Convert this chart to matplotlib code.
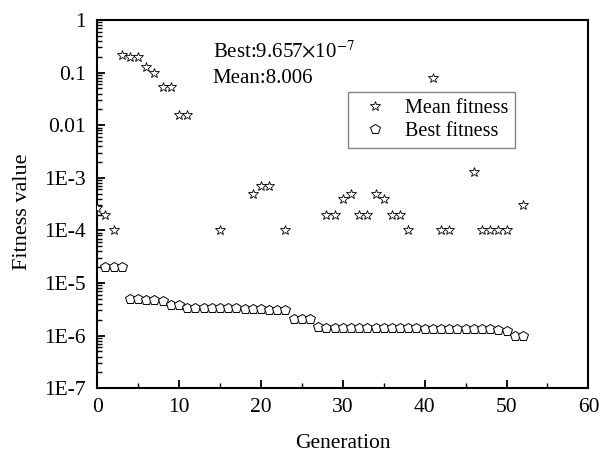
import numpy as np
import matplotlib
matplotlib.use('Agg')
import matplotlib.pyplot as plt
from matplotlib.ticker import FixedLocator, FixedFormatter, LogLocator, NullFormatter, MultipleLocator

plt.rcParams['font.family'] = ['Liberation Serif', 'DejaVu Serif']
plt.rcParams['mathtext.fontset'] = 'stix'

# mean fitness (only generations where the marker is visible inside the axis)
mean_gen = [0, 1, 2, 3, 4, 5, 6, 7, 8, 9, 10, 11, 15, 19, 20, 21, 23, 28, 29, 30, 31,
            32, 33, 34, 35, 36, 37, 38, 41, 42, 43, 46, 47, 48, 49, 50, 52]
mean_val = [2.7e-4, 2.0e-4, 1.0e-4, 0.22, 0.20, 0.20, 0.13, 0.10, 0.053, 0.053, 0.0155, 0.0155,
            1.0e-4, 5.0e-4, 7.0e-4, 7.0e-4, 1.0e-4, 2.0e-4, 2.0e-4, 4.0e-4, 5.0e-4,
            2.0e-4, 2.0e-4, 5.0e-4, 4.0e-4, 2.0e-4, 2.0e-4, 1.0e-4, 0.078, 1.0e-4, 1.0e-4,
            1.3e-3, 1.0e-4, 1.0e-4, 1.0e-4, 1.0e-4, 3.0e-4]

best_gen = list(range(1, 53))
best_val = [2.0e-5, 2.0e-5, 2.0e-5,
            5.0e-6, 4.9e-6, 4.8e-6, 4.7e-6, 4.5e-6,
            3.8e-6, 3.8e-6,
            3.3e-6, 3.3e-6, 3.3e-6, 3.3e-6, 3.3e-6, 3.3e-6, 3.3e-6, 3.25e-6, 3.25e-6, 3.2e-6,
            3.1e-6, 3.0e-6, 3.0e-6,
            2.1e-6, 2.1e-6, 2.1e-6,
            1.45e-6, 1.42e-6, 1.4e-6, 1.4e-6, 1.4e-6, 1.4e-6, 1.4e-6, 1.4e-6, 1.4e-6, 1.38e-6,
            1.38e-6, 1.37e-6, 1.37e-6, 1.36e-6, 1.35e-6, 1.35e-6, 1.34e-6, 1.34e-6, 1.33e-6,
            1.33e-6, 1.32e-6, 1.32e-6, 1.3e-6, 1.22e-6, 1.0e-6, 9.657e-7]

yticks = [1, 0.1, 0.01, 1e-3, 1e-4, 1e-5, 1e-6, 1e-7]
ylabels = ['1', '0.1', '0.01', '1E-3', '1E-4', '1E-5', '1E-6', '1E-7']

fig = plt.figure(figsize=(6.11, 4.54), dpi=100)
ax = fig.add_axes([0.159, 0.145, 0.804, 0.811])

ax.plot(mean_gen, mean_val, linestyle='none', marker='*', markersize=7,
        markerfacecolor='white', markeredgecolor='black', markeredgewidth=0.6,
        label='Mean fitness', zorder=3)
ax.plot(best_gen, best_val, linestyle='none', marker='p', markersize=7.5,
        markerfacecolor='white', markeredgecolor='black', markeredgewidth=0.7,
        label='Best fitness', zorder=3)

ax.set_yscale('log')
ax.set_xlim(0, 60)
ax.set_ylim(1e-7, 1)
ax.yaxis.set_major_locator(FixedLocator(yticks))
ax.yaxis.set_major_formatter(FixedFormatter(ylabels))
ax.yaxis.set_minor_locator(LogLocator(base=10, subs=np.arange(2, 10)))
ax.yaxis.set_minor_formatter(NullFormatter())
ax.xaxis.set_major_locator(MultipleLocator(10))
ax.xaxis.set_minor_locator(MultipleLocator(5))

ax.tick_params(which='both', direction='in', top=False, right=False, labelsize=15.5)
ax.tick_params(which='major', length=6, width=1.3)
ax.tick_params(which='minor', length=3.5, width=1.0)
ax.tick_params(axis='x', pad=7)
ax.tick_params(axis='y', pad=8)
for sp in ax.spines.values():
    sp.set_linewidth(1.5)

ax.set_xlabel('Generation', fontsize=15.5, labelpad=12)
ax.set_ylabel('Fitness value', fontsize=16)
ax.yaxis.set_label_coords(-0.132, 0.48)

ax.text(0.235, 0.899, r'Best:9.657$\times$10$^{-7}$', transform=ax.transAxes,
        fontsize=15, va='baseline')
ax.text(0.235, 0.829, 'Mean:8.006', transform=ax.transAxes, fontsize=15, va='baseline')

leg = ax.legend(loc='upper left', bbox_to_anchor=(0.511, 0.804), borderaxespad=0,
                fontsize=14.5, frameon=True, fancybox=False, edgecolor='#666666',
                handletextpad=0.45, borderpad=0.35, labelspacing=0.2, handlelength=2.0)
leg.get_frame().set_linewidth(1.0)

fig.savefig('out.png', dpi=100)
